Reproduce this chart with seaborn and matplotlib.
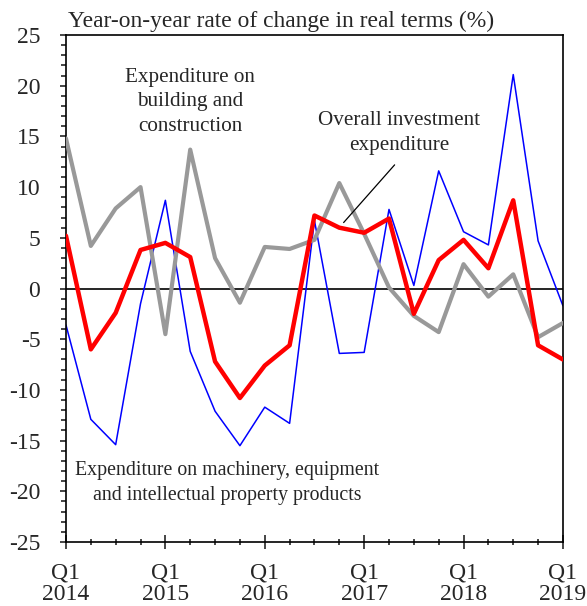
import matplotlib
matplotlib.use("Agg")
import matplotlib.pyplot as plt
import matplotlib.ticker as mticker
import pandas as pd
import numpy as np
import seaborn as sns

# quarters Q1 2014 .. Q1 2019
quarters = [f"Q{q} {y}" for y in range(2014, 2019) for q in range(1, 5)] + ["Q1 2019"]

building = [14.8, 4.2, 7.9, 10.0, -4.5, 13.7, 3.0, -1.4, 4.1, 3.9, 4.8,
            10.4, 5.4, 0.1, -2.7, -4.3, 2.4, -0.8, 1.4, -4.8, -3.4]
overall = [5.2, -6.0, -2.4, 3.8, 4.5, 3.1, -7.2, -10.8, -7.6, -5.6, 7.2,
           6.0, 5.5, 6.9, -2.5, 2.8, 4.8, 2.0, 8.7, -5.6, -7.0]
machinery = [-3.6, -12.9, -15.4, -1.5, 8.7, -6.2, -12.1, -15.5, -11.7, -13.3, 6.7,
             -6.4, -6.3, 7.8, 0.3, 11.6, 5.6, 4.3, 21.1, 4.7, -1.7]

year_labels = ["Q1\n2014", "Q1\n2015", "Q1\n2016", "Q1\n2017", "Q1\n2018", "Q1\n2019"]

df = pd.DataFrame({"idx": np.arange(len(quarters)), "quarter": quarters,
                   "building": building, "overall": overall, "machinery": machinery})

sns.set_style("white")
plt.rcParams["font.family"] = ["Liberation Serif", "DejaVu Serif"]
plt.rcParams["axes.unicode_minus"] = False

fig = plt.figure(figsize=(5.87, 6.06), dpi=100)
ax = fig.add_axes([0.1124, 0.1056, 0.8466, 0.8366])

ax.axhline(0, color="black", lw=1.2, zorder=1)
sns.lineplot(data=df, x="idx", y="machinery", ax=ax, color="#0000ff", lw=1.1, zorder=2)
sns.lineplot(data=df, x="idx", y="building", ax=ax, color="#999999", lw=3.0, zorder=3)
sns.lineplot(data=df, x="idx", y="overall", ax=ax, color="#ff0000", lw=3.2, zorder=4)

ax.set_xlim(0, len(quarters) - 1)
ax.set_ylim(-25, 25)
ax.set_xlabel("")
ax.set_ylabel("")

ax.yaxis.set_major_locator(mticker.MultipleLocator(5))
ax.yaxis.set_minor_locator(mticker.MultipleLocator(1))
ax.set_xticks(np.arange(0, len(quarters), 4))
ax.set_xticklabels(year_labels)
ax.set_xticks(np.arange(len(quarters)), minor=True)

ax.tick_params(axis="y", which="major", direction="out", length=4.5, width=1.2, labelsize=17, pad=14, left=True)
ax.tick_params(axis="y", which="minor", direction="out", length=3.5, width=1.2, left=True)
ax.tick_params(axis="x", which="major", direction="inout", length=10, width=1.2, labelsize=17, pad=10, bottom=True)
ax.tick_params(axis="x", which="minor", direction="inout", length=5, width=1.2, bottom=True)
for lbl in ax.get_xticklabels():
    lbl.set_linespacing(1.0)

for s in ax.spines.values():
    s.set_color("black")
    s.set_linewidth(1.2)
    s.set_visible(True)

fig.text(0.116, 0.964, "Year-on-year rate of change in real terms (%)", fontsize=16.9, ha="left", va="center")

ax.text(5, 18.4, "Expenditure on\nbuilding and\nconstruction", fontsize=15.2, ha="center", va="center",
        linespacing=1.42)
ax.text(13.4, 15.3, "Overall investment\nexpenditure", fontsize=15.2, ha="center", va="center",
        linespacing=1.42)
ax.annotate("", xy=(11.1, 6.3), xytext=(13.3, 12.4),
            arrowprops=dict(arrowstyle="-", color="black", lw=0.9))
ax.text(6.5, -19.2, "Expenditure on machinery, equipment\nand intellectual property products", fontsize=14.3,
        ha="center", va="center", linespacing=1.4)

fig.savefig("out.png", dpi=100)
